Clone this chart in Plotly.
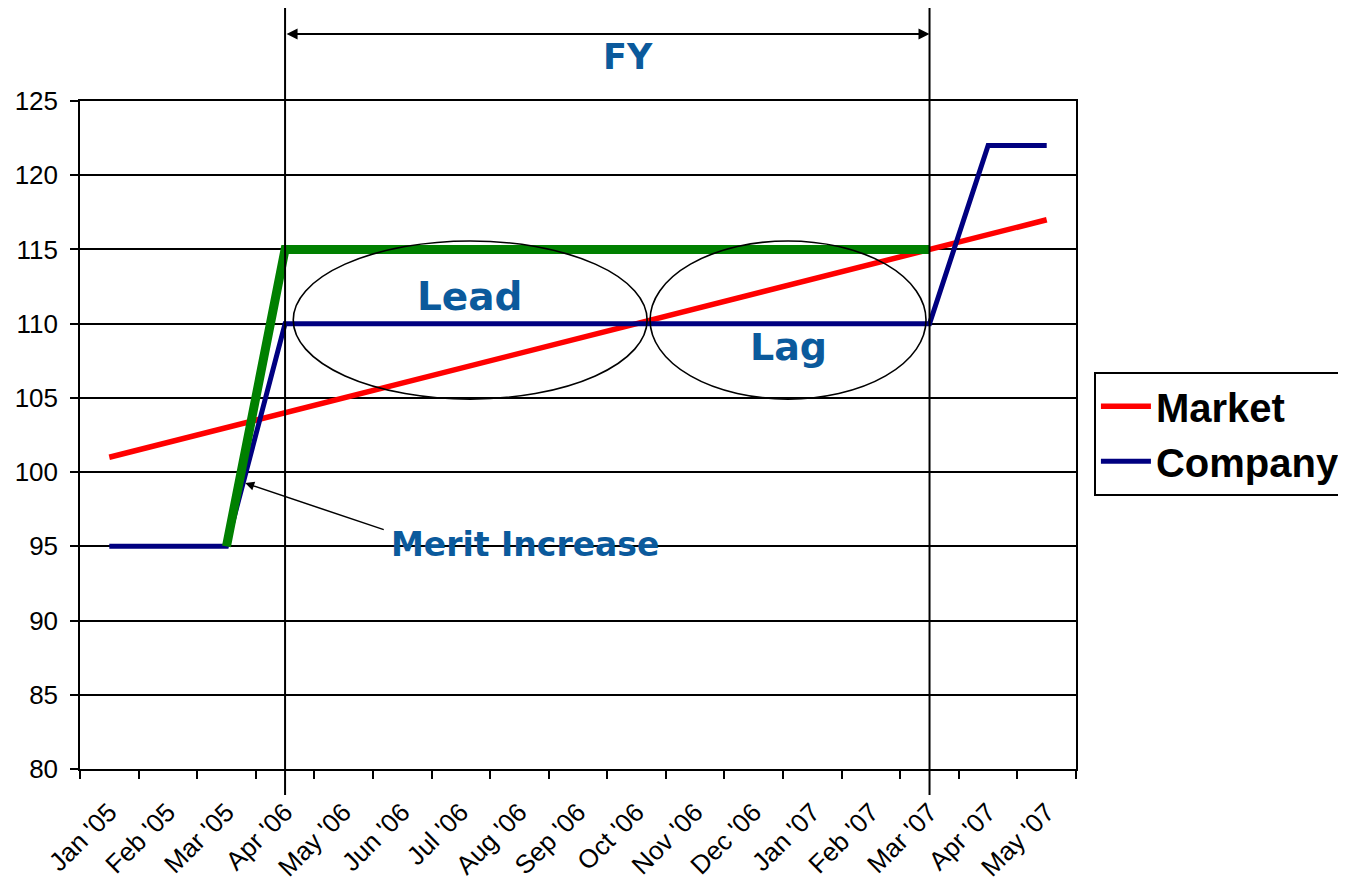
import plotly.graph_objects as go

months = ["Jan '05", "Feb '05", "Mar '05", "Apr '06", "May '06", "Jun '06", "Jul '06",
          "Aug '06", "Sep '06", "Oct '06", "Nov '06", "Dec '06", "Jan '07", "Feb '07",
          "Mar '07", "Apr '07", "May '07"]
market = [101, 102, 103, 104, 105, 106, 107, 108, 109, 110, 111, 112, 113, 114, 115, 116, 117]
company = [95, 95, 95, 110, 110, 110, 110, 110, 110, 110, 110, 110, 110, 110, 110, 122, 122]
merit = [None, None, 95, 115, 115, 115, 115, 115, 115, 115, 115, 115, 115, 115, 115, None, None]
y_ticks = [80, 85, 90, 95, 100, 105, 110, 115, 120, 125]

BLUE_TXT = "#0B5A9C"
FONT = "Liberation Sans, Arial, sans-serif"
BOLD = "DejaVu Sans, Verdana, sans-serif"

fig = go.Figure()
fig.add_trace(go.Scatter(x=months, y=market, mode="lines", name="Market",
                         line=dict(color="#FF0000", width=5.5)))
fig.add_trace(go.Scatter(x=months, y=company, mode="lines", name="Company",
                         line=dict(color="#000080", width=5)))
fig.add_trace(go.Scatter(x=months, y=merit, mode="lines", name="Merit",
                         showlegend=False, line=dict(color="#008000", width=9)))

fig.update_layout(
    width=1338, height=879,
    margin=dict(l=72, r=270, t=93, b=118, autoexpand=False),
    plot_bgcolor="white", paper_bgcolor="white",
    font=dict(family=FONT, size=25, color="black"),
    showlegend=True,
    legend=dict(x=1.018, y=0.502, xanchor="left", yanchor="middle",
                bordercolor="black", borderwidth=2, bgcolor="white",
                font=dict(family=FONT, size=40, color="black", weight="bold"),
                tracegroupgap=0, itemwidth=50),
)
fig.update_xaxes(type="category", categoryorder="array", categoryarray=months,
                 range=[-0.5, 16.5], showgrid=False, showline=True, linecolor="black",
                 linewidth=1.5, mirror=True, ticks="outside", tickson="boundaries",
                 ticklen=8, tickwidth=1.5, tickcolor="black", tickangle=-45,
                 tickfont=dict(size=26, family=FONT), ticklabelstandoff=16)
fig.update_yaxes(range=[80, 125], tickvals=y_ticks, showgrid=True, gridcolor="black",
                 gridwidth=1.5, showline=True, linecolor="black", linewidth=1.5,
                 mirror=True, ticks="outside", ticklen=8, tickwidth=1.5, tickcolor="black",
                 tickfont=dict(size=26, family=FONT), ticklabelstandoff=7, zeroline=False)

# FY boundary lines
for xi in [3, 14]:
    fig.add_shape(type="line", xref="x", yref="paper", x0=xi, x1=xi, y0=-0.039, y1=1.144,
                  line=dict(color="black", width=2), layer="above")

# Lead / Lag ellipses
fig.add_shape(type="circle", xref="x", yref="y", x0=3.14, x1=9.18, y0=104.92, y1=115.57,
              line=dict(color="black", width=1.6), layer="above")
fig.add_shape(type="circle", xref="x", yref="y", x0=9.23, x1=13.94, y0=104.92, y1=115.57,
              line=dict(color="black", width=1.6), layer="above")

# FY arrow
fig.add_annotation(x=14, y=1.1003, xref="x", yref="paper", ax=3, ay=0, axref="x",
                   ayref="pixel", text="", showarrow=True, arrowhead=2, startarrowhead=2,
                   arrowside="end+start", arrowwidth=2, arrowsize=1.1, startarrowsize=1.1,
                   arrowcolor="black")
fig.add_annotation(x=8.85, y=1.066, xref="x", yref="paper", yanchor="middle",
                   xanchor="center", text="FY", showarrow=False,
                   font=dict(family=BOLD, size=35, color=BLUE_TXT, weight="bold"))
fig.add_annotation(x=6.16, y=111.8, xref="x", yref="y", text="Lead", showarrow=False,
                   font=dict(family=BOLD, size=39, color=BLUE_TXT, weight="bold"))
fig.add_annotation(x=11.6, y=108.43, xref="x", yref="y", text="Lag", showarrow=False,
                   font=dict(family=BOLD, size=38, color=BLUE_TXT, weight="bold"))
fig.add_annotation(x=7.1, y=95.1, xref="x", yref="y", text="Merit Increase", showarrow=False,
                   font=dict(family=BOLD, size=33, color=BLUE_TXT, weight="bold"))
# Merit arrow
fig.add_annotation(x=2.32, y=99.26, xref="x", yref="y", ax=4.71, ay=96.09, axref="x",
                   ayref="y", text="", showarrow=True, arrowhead=2, arrowwidth=1.5,
                   arrowsize=1.2, arrowcolor="black")

fig.write_html("out.html")
